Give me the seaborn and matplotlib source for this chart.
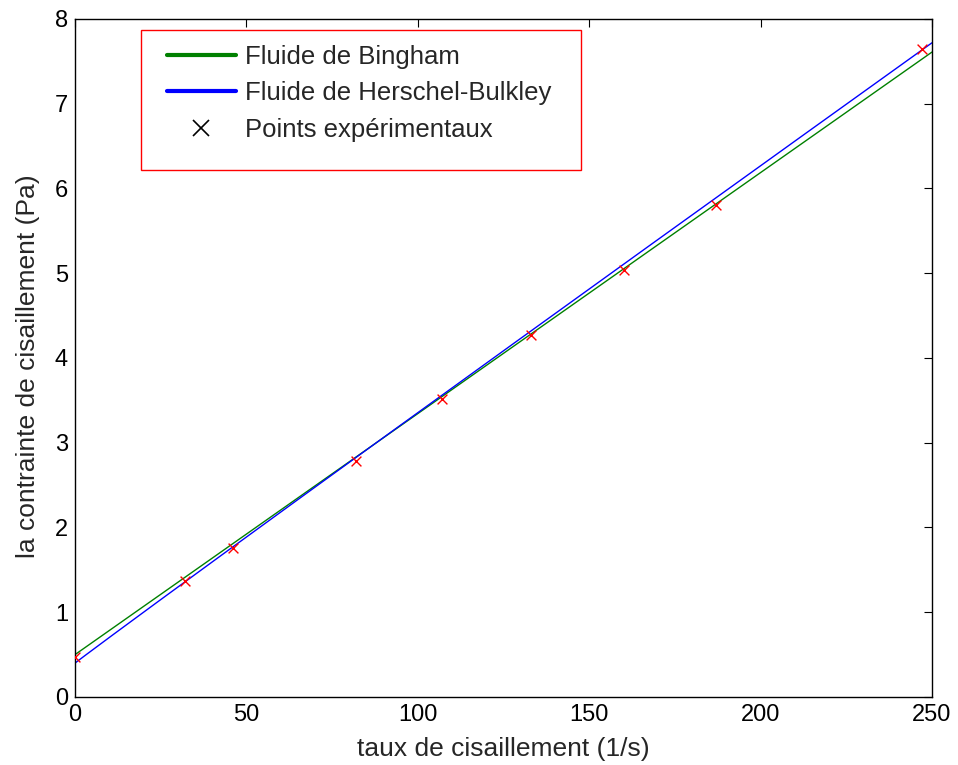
import numpy as np
import pandas as pd
import matplotlib
matplotlib.use("Agg")
import matplotlib.pyplot as plt
from matplotlib.lines import Line2D
from matplotlib.patches import Rectangle
import seaborn as sns

# Experimental points
gamma_exp = [0, 32, 46, 82, 107, 133, 160, 187, 247]
tau_exp = [0.47, 1.37, 1.76, 2.79, 3.52, 4.27, 5.04, 5.81, 7.64]

# Model parameters
bingham_tau0 = 0.50
bingham_mu = 0.02844
hb_tau0 = 0.40
hb_K = 0.03094
hb_n = 0.99

gamma = np.linspace(0, 250, 251)
tau_bingham = bingham_tau0 + bingham_mu * gamma
tau_hb = hb_tau0 + hb_K * gamma ** hb_n

sns.set_style("white")
plt.rcParams['font.family'] = ['Liberation Sans', 'DejaVu Sans']

fig = plt.figure(figsize=(9.58, 7.65), dpi=100)
ax = fig.add_axes([0.0783, 0.0889, 0.8946, 0.8863])

df = pd.DataFrame({"gamma": gamma, "bingham": tau_bingham, "hb": tau_hb})
sns.lineplot(data=df, x="gamma", y="bingham", color="#008000", lw=1.0, ax=ax)
sns.lineplot(data=df, x="gamma", y="hb", color="#0000ff", lw=1.0, ax=ax)
dfe = pd.DataFrame({"gamma": gamma_exp, "tau": tau_exp})
sns.scatterplot(data=dfe, x="gamma", y="tau", marker="x", color="red", s=50,
                linewidth=1.0, ax=ax, zorder=5)

ax.set_xlim(0, 250)
ax.set_ylim(0, 8)
ax.set_xticks([0, 50, 100, 150, 200, 250])
ax.set_yticks(range(0, 9))
ax.tick_params(direction="in", top=True, right=True, labelsize=17, length=6,
               width=0.8, colors="black", pad=5)
for s in ax.spines.values():
    s.set_visible(True)
    s.set_color("black")
    s.set_linewidth(1.0)
ax.set_xlabel("taux de cisaillement (1/s)", fontsize=19, labelpad=8)
ax.set_ylabel("la contrainte de cisaillement (Pa)", fontsize=19)
ax.yaxis.set_label_coords(-0.041, 0.488)

# legend frame (red box)
ax.add_patch(Rectangle((0.077, 0.7773), 0.5134, 0.2065, transform=ax.transAxes,
                       facecolor="white", edgecolor="red", lw=1.0, zorder=6))

handles = [
    Line2D([], [], color="#008000", lw=3),
    Line2D([], [], color="#0000ff", lw=3),
    Line2D([], [], color="black", marker="x", ls="none", markersize=12, mew=1.2),
]
labels = ["Fluide de Bingham", "Fluide de Herschel-Bulkley", "Points expérimentaux"]
leg = ax.legend(handles, labels, loc="upper left", bbox_to_anchor=(0.1074, 0.961),
                fontsize=18.5, frameon=False, handlelength=2.68, handletextpad=0.35,
                borderpad=0, labelspacing=0.47, borderaxespad=0)
leg.set_zorder(7)

fig.savefig("out.png", dpi=100, facecolor="white")
